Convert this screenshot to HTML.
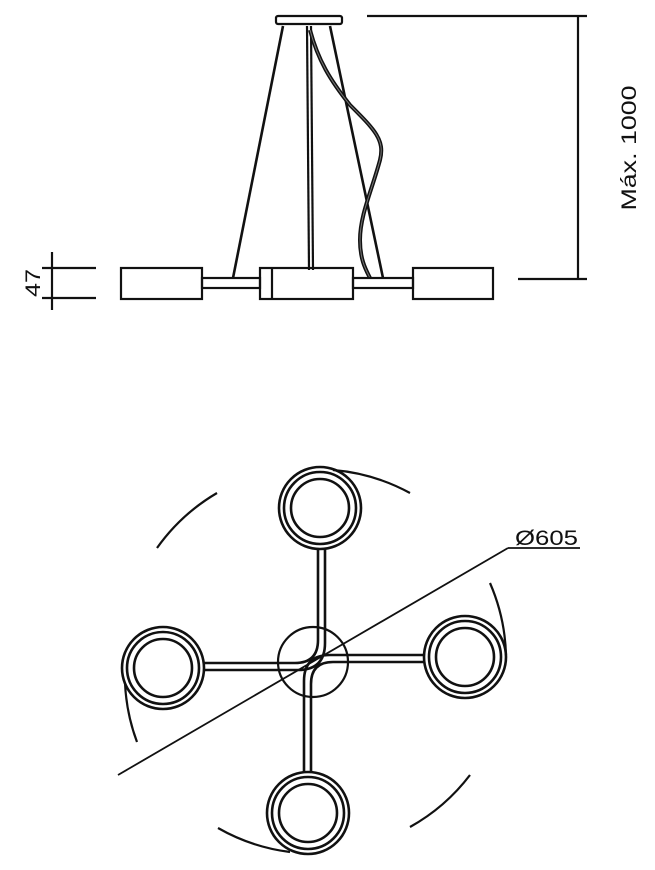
<!DOCTYPE html>
<html><head><meta charset="utf-8"><style>
html,body{margin:0;padding:0;background:#fff;}
svg{display:block;}
text{font-family:"Liberation Sans",sans-serif;fill:#111;}
</style></head><body>
<svg width="655" height="870" viewBox="0 0 655 870" xmlns="http://www.w3.org/2000/svg">
<g stroke="#111" stroke-width="2.2" fill="none">
  <!-- side view -->
  <rect x="276" y="16" width="66" height="8" rx="2"/>
  <line x1="283" y1="26" x2="233" y2="278" stroke-width="2.6"/>
  <line x1="307" y1="26" x2="309" y2="270"/>
  <line x1="311" y1="26" x2="313" y2="270"/>
  <line x1="330" y1="26" x2="383" y2="278" stroke-width="2.6"/>
  <path d="M310 30 C318 60 330 80 350 105 C375 130 385 140 380 160 C372 190 360 215 360 240 C360 260 366 270 370 278" stroke-width="4"/>
  <path d="M310 30 C318 60 330 80 350 105 C375 130 385 140 380 160 C372 190 360 215 360 240 C360 260 366 270 370 278" stroke="#777" stroke-width="1"/>
  <rect x="121" y="268" width="81" height="31"/>
  <rect x="202" y="278" width="58" height="10"/>
  <rect x="260" y="268" width="93" height="31"/>
  <line x1="272" y1="268" x2="272" y2="299"/>
  <rect x="353" y="278" width="60" height="10"/>
  <rect x="413" y="268" width="80" height="31"/>
  <!-- dims -->
  <line x1="367" y1="16" x2="587" y2="16"/>
  <line x1="578" y1="16" x2="578" y2="279"/>
  <line x1="518" y1="279" x2="587" y2="279"/>
  <line x1="42" y1="268" x2="96" y2="268"/>
  <line x1="42" y1="298" x2="96" y2="298"/>
  <line x1="52" y1="252" x2="52" y2="310"/>

  <!-- top view -->
  <circle cx="313" cy="662" r="35"/>
  <g fill="#fff" stroke-width="2.6">
    <circle cx="320" cy="508" r="41"/><circle cx="320" cy="508" r="36"/><circle cx="320" cy="508" r="29"/>
    <circle cx="163" cy="668" r="41"/><circle cx="163" cy="668" r="36"/><circle cx="163" cy="668" r="29"/>
    <circle cx="465" cy="657" r="41"/><circle cx="465" cy="657" r="36"/><circle cx="465" cy="657" r="29"/>
    <circle cx="308" cy="813" r="41"/><circle cx="308" cy="813" r="36"/><circle cx="308" cy="813" r="29"/>
  </g>
  <!-- arms -->
  <g stroke-width="2.6">
  <path d="M318 549 L318 640 Q318 663 295 663 L204 663"/>
  <path d="M325 549 L325 643 Q325 670 298 670 L204 670"/>
  <path d="M424 655 L330 655 Q304 655 304 681 L304 772"/>
  <path d="M424 662 L333 662 Q311 662 311 684 L311 772"/>
  </g>
  <!-- dashed outer arcs r=195 -->
  <path d="M333 470 A194 194 0 0 1 410 493"/>
  <path d="M217 493 A194 194 0 0 0 157 548"/>
  <path d="M490 583 A194 194 0 0 1 506 655"/>
  <path d="M125 683 A194 194 0 0 0 137 742"/>
  <path d="M470 775 A194 194 0 0 1 410 827"/>
  <path d="M218 828 A194 194 0 0 0 290 852"/>
  <!-- diameter leader -->
  <line x1="118" y1="775" x2="508" y2="548" stroke-width="1.8"/>
  <line x1="508" y1="548" x2="580" y2="548" stroke-width="1.8"/>
</g>
<text x="515" y="545" font-size="21" textLength="63" lengthAdjust="spacingAndGlyphs">Ø605</text>
<text transform="translate(636,148) rotate(-90)" font-size="21" text-anchor="middle" textLength="125" lengthAdjust="spacingAndGlyphs">Máx. 1000</text>
<text transform="translate(40,283) rotate(-90)" font-size="21" text-anchor="middle" textLength="28" lengthAdjust="spacingAndGlyphs">47</text>
</svg>
</body></html>
